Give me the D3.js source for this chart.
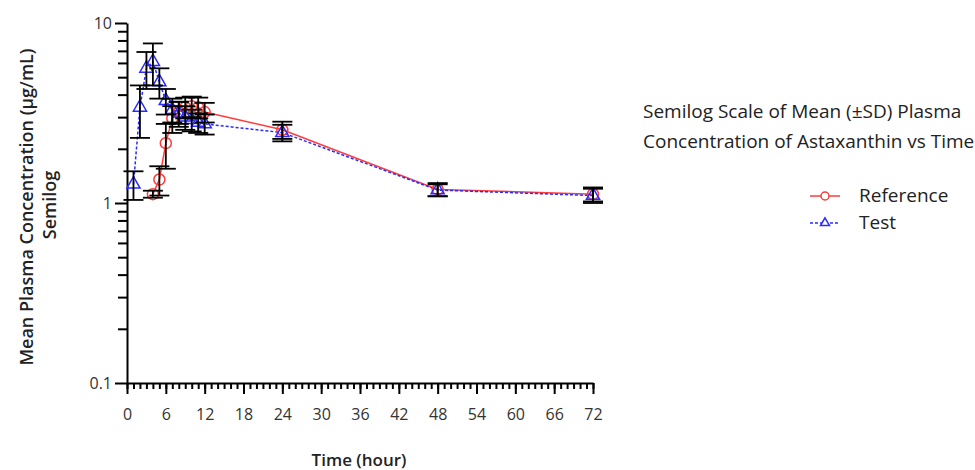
<!DOCTYPE html>
<html>
<head>
<meta charset="utf-8">
<script src="https://cdn.jsdelivr.net/npm/d3@7"></script>
<style>
    body { margin: 0; background: #fff; }
    text { font-family: "Open Sans", sans-serif; fill: #222; }
    .tick text { font-size: 16px; fill: #333; }
    .domain, .tick line { stroke: #000; stroke-width: 2px; }
</style>
</head>
<body>
<div id="chart"></div>
<script>
// Reference formulation (red circles)
var refTime = [4, 5, 6, 7, 8, 9, 10, 11, 12, 24, 48, 72];
var refMean = [1.12, 1.35, 2.15, 2.95, 3.2, 3.4, 3.45, 3.4, 3.2, 2.55, 1.19, 1.12];
var refSD = [0.05, 0.25, 0.6, 0.5, 0.45, 0.45, 0.45, 0.45, 0.4, 0.28, 0.1, 0.1];

// Test formulation (blue triangles)
var testTime = [1, 2, 3, 4, 5, 6, 7, 8, 9, 10, 11, 12, 24, 48, 72];
var testMean = [1.27, 3.4, 5.6, 6.1, 4.7, 3.7, 3.3, 3.15, 3.0, 2.9, 2.8, 2.75, 2.46, 1.18, 1.1];
var testSD = [0.23, 1.1, 1.3, 1.6, 0.9, 0.6, 0.5, 0.5, 0.45, 0.4, 0.35, 0.35, 0.26, 0.09, 0.1];

var xTicks = [0, 6, 12, 18, 24, 30, 36, 42, 48, 54, 60, 66, 72];
var yTicks = [0.1, 1, 10];

function init() {
    var w = 975;
    var h = 470;

    var svg = d3.select("#chart").append("svg").attr("width", w).attr("height", h);

    var xScale = d3.scaleLinear().domain([0, 72]).range([127, 593]);
    var yScale = d3.scaleLog().domain([0.1, 10]).range([383, 23]);

    function rows(t, m, s) {
        return t.map(function (d, i) { return { t: d, m: m[i], s: s[i] }; });
    }
    var ref = rows(refTime, refMean, refSD);
    var test = rows(testTime, testMean, testSD);

    // minor ticks first
    var yMinor = [];
    [0.1, 1].forEach(function (dec) {
        for (var k = 2; k <= 9; k++) yMinor.push(dec * k);
    });
    svg.append("g")
        .attr("transform", "translate(127,0)")
        .call(d3.axisLeft(yScale).tickValues(yMinor).tickSize(9).tickFormat(""))
        .call(function (g) { g.select(".domain").remove(); });

    svg.append("g")
        .attr("transform", "translate(0,383)")
        .call(d3.axisBottom(xScale).tickValues(d3.range(0, 73)).tickSize(6).tickFormat(""))
        .call(function (g) { g.select(".domain").remove(); });

    // main axes
    svg.append("g")
        .attr("transform", "translate(127,0)")
        .call(d3.axisLeft(yScale).tickValues(yTicks).tickSize(12).tickSizeOuter(0).tickPadding(3)
            .tickFormat(function (d) { return d === 0.1 ? "0.1" : String(d); }));

    svg.append("g")
        .attr("transform", "translate(0,383)")
        .call(d3.axisBottom(xScale).tickValues(xTicks).tickSize(11).tickSizeOuter(0).tickPadding(15));

    // lines
    var line = d3.line()
        .x(function (d) { return xScale(d.t); })
        .y(function (d) { return yScale(d.m); });

    svg.append("path").datum(ref)
        .attr("d", line).attr("fill", "none")
        .attr("stroke", "#ff3b3b").attr("stroke-width", 1.5);

    svg.append("path").datum(test)
        .attr("d", line).attr("fill", "none")
        .attr("stroke", "#2b2bff").attr("stroke-width", 1.5)
        .attr("stroke-dasharray", "3,2");

    // markers
    svg.selectAll(".refPt").data(ref).enter().append("circle")
        .attr("cx", function (d) { return xScale(d.t); })
        .attr("cy", function (d) { return yScale(d.m); })
        .attr("r", 5.5).attr("fill", "none")
        .attr("stroke", "#ff3b3b").attr("stroke-width", 1.5);

    var tri = d3.symbol().type(d3.symbolTriangle).size(75);
    svg.selectAll(".testPt").data(test).enter().append("path")
        .attr("d", tri)
        .attr("transform", function (d) { return "translate(" + xScale(d.t) + "," + yScale(d.m) + ")"; })
        .attr("fill", "none")
        .attr("stroke", "#2b2bff").attr("stroke-width", 1.5);

    // error bars
    function errorBars(data) {
        var g = svg.append("g").attr("stroke", "#000").attr("stroke-width", 1.8);
        data.forEach(function (d) {
            var x = xScale(d.t);
            var y1 = yScale(d.m + d.s);
            var y0 = yScale(d.m - d.s);
            g.append("line").attr("x1", x).attr("x2", x).attr("y1", y1).attr("y2", y0);
            g.append("line").attr("x1", x - 10).attr("x2", x + 10).attr("y1", y1).attr("y2", y1);
            g.append("line").attr("x1", x - 10).attr("x2", x + 10).attr("y1", y0).attr("y2", y0);
        });
    }
    errorBars(ref);
    errorBars(test);

    // axis titles
    svg.append("text")
        .attr("transform", "translate(33,207) rotate(-90)")
        .attr("text-anchor", "middle")
        .style("font-size", "18px").style("font-weight", 600)
        .text("Mean Plasma Concentration (µg/mL)");

    svg.append("text")
        .attr("transform", "translate(56,205) rotate(-90)")
        .attr("text-anchor", "middle")
        .style("font-size", "18px").style("font-weight", 600)
        .text("Semilog");

    svg.append("text")
        .attr("x", 359).attr("y", 466)
        .attr("text-anchor", "middle")
        .style("font-size", "17px").style("font-weight", 600)
        .text("Time (hour)");

    // title
    svg.append("text")
        .attr("x", 643).attr("y", 118)
        .style("font-size", "19px")
        .text("Semilog Scale of Mean (±SD) Plasma");
    svg.append("text")
        .attr("x", 643).attr("y", 148)
        .style("font-size", "19px")
        .text("Concentration of Astaxanthin vs Time");

    // legend
    var lg = svg.append("g");
    lg.append("line").attr("x1", 810).attr("x2", 840).attr("y1", 196).attr("y2", 196)
        .attr("stroke", "#ff3b3b").attr("stroke-width", 1.5);
    lg.append("circle").attr("cx", 825).attr("cy", 196).attr("r", 4)
        .attr("fill", "#fff").attr("stroke", "#ff3b3b").attr("stroke-width", 1.5);
    lg.append("text").attr("x", 859).attr("y", 202).style("font-size", "19px").text("Reference");

    lg.append("line").attr("x1", 810).attr("x2", 840).attr("y1", 223).attr("y2", 223)
        .attr("stroke", "#2b2bff").attr("stroke-width", 1.5).attr("stroke-dasharray", "3,2");
    lg.append("path").attr("d", d3.symbol().type(d3.symbolTriangle).size(35))
        .attr("transform", "translate(825,223)")
        .attr("fill", "#fff").attr("stroke", "#2b2bff").attr("stroke-width", 1.5);
    lg.append("text").attr("x", 859).attr("y", 229).style("font-size", "19px").text("Test");
}

window.onload = init;
</script>
</body>
</html>
